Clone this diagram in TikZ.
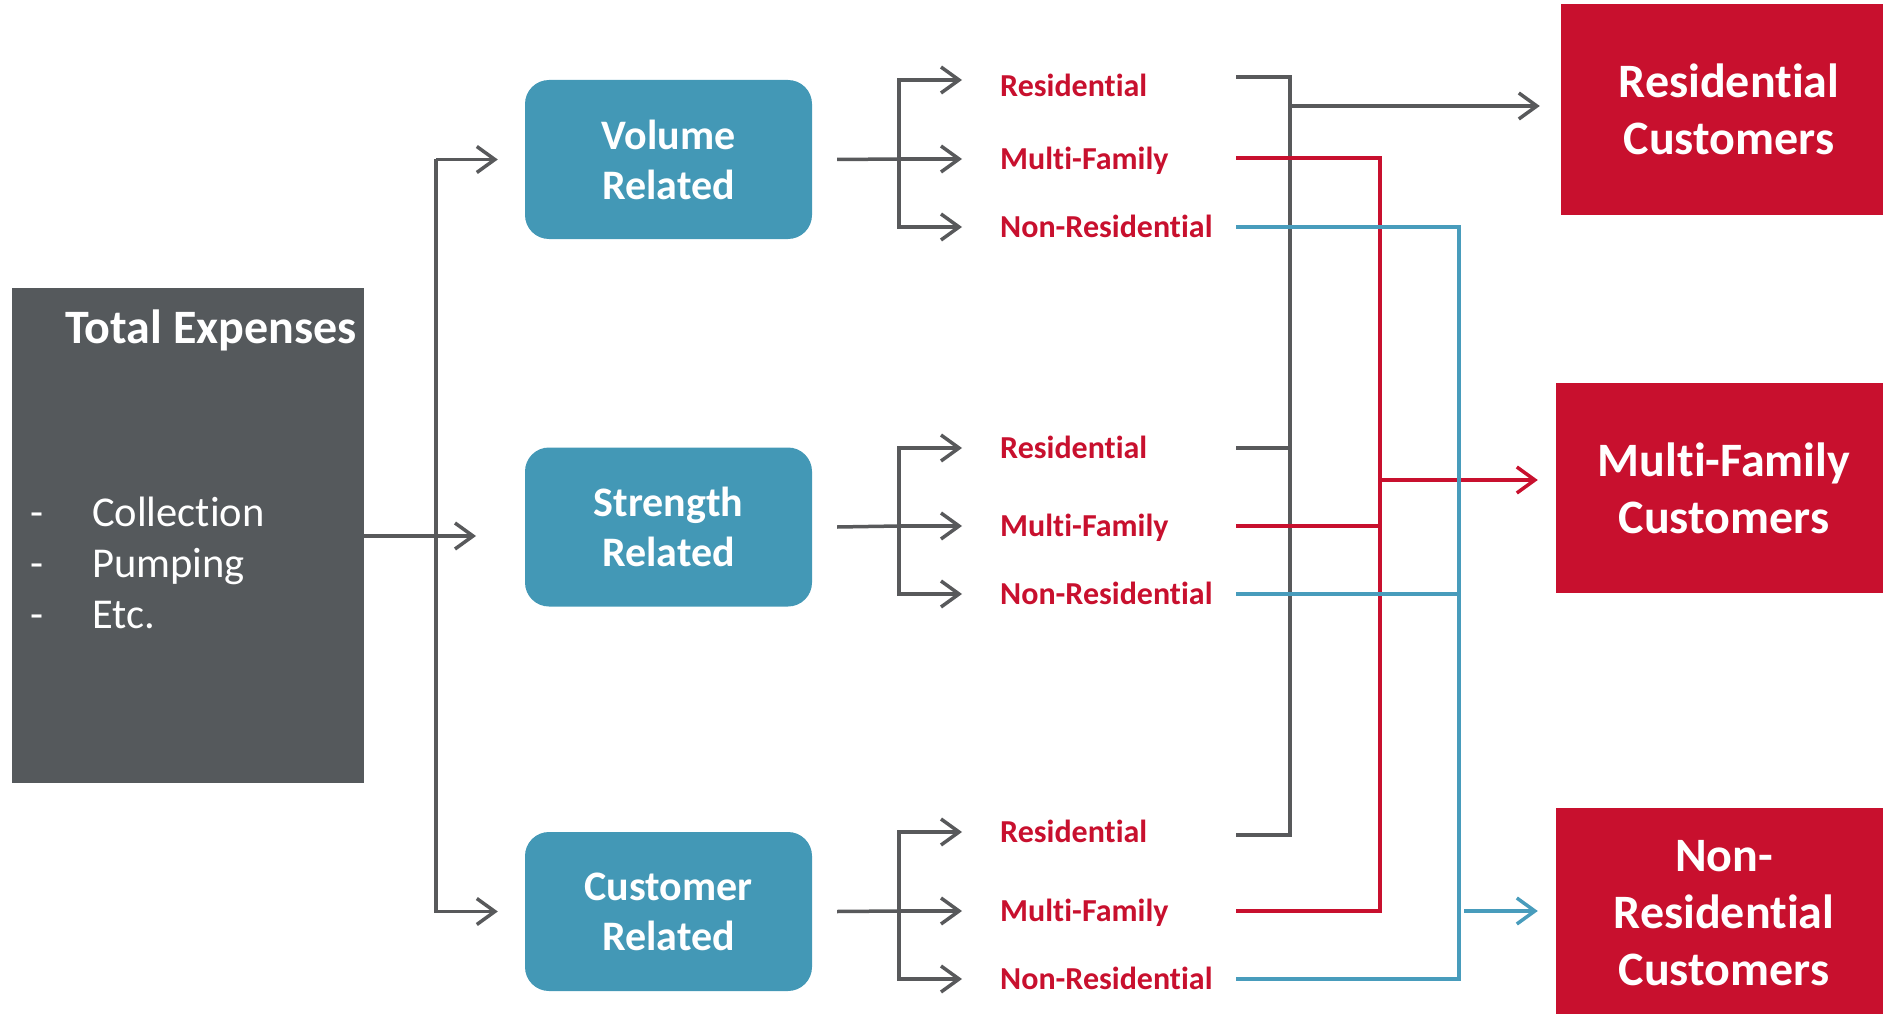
\documentclass[tikz,border=0pt]{standalone}
\usepackage{fontspec}
\setmainfont{Carlito}[Ligatures=NoCommon]
\usetikzlibrary{arrows.meta}
\definecolor{boxgray}{RGB}{85,89,92}
\definecolor{tealb}{RGB}{67,152,182}
\definecolor{crim}{RGB}{200,16,46}
\definecolor{lgray}{RGB}{88,89,91}
\definecolor{lblue}{RGB}{72,156,188}
\tikzset{
  totalbox/.style={fill=boxgray, draw=none, minimum width=352pt, minimum height=495pt, anchor=north west, inner sep=0pt},
  totaltitle/.style={text=white, font=\bfseries\fontsize{48}{54}\selectfont, inner sep=0pt},
  listtxt/.style={text=white, font=\fontsize{42.5}{50}\selectfont, anchor=base west, inner sep=0pt},
  bluebox/.style={fill=tealb, rounded corners=24pt, minimum width=287pt, minimum height=159pt, text=white, font=\bfseries\fontsize{42}{50}\selectfont, align=center, inner sep=0pt},
  redbox/.style={fill=crim, minimum width=336pt, minimum height=210pt, text=white, font=\bfseries\fontsize{48}{57}\selectfont, align=center, inner sep=0pt},
  lab/.style={text=crim, font=\bfseries\fontsize{32}{36}\selectfont, anchor=west, inner sep=0pt, text height=20.5pt, text depth=0pt},
  conn/.style={line width=3.5pt, draw=lgray},
  arr/.style={conn, -{Straight Barb[length=18pt,width=26pt]}},
}
\begin{document}
\begin{tikzpicture}[x=1pt,y=-1pt]
\useasboundingbox (0,0) rectangle (1883,1014);
% left box
\node[totalbox] (tot) at (12,288) {};
\node[totaltitle] (tt) at (211,330) {Total Expenses};
\node[listtxt] (d1) at (30,526) {-};
\node[listtxt] (d2) at (30,577) {-};
\node[listtxt] (d3) at (30,628) {-};
\node[listtxt] (l1) at (92,526) {Collection};
\node[listtxt] (l2) at (92,577) {Pumping};
\node[listtxt] (l3) at (92,628) {Etc.};
% blue boxes
\node[bluebox] (vb) at (668.5,159.5) {Volume\\Related};
\node[bluebox] (sb) at (668.5,527) {Strength\\Related};
\node[bluebox] (cb) at (668.5,911.5) {Customer\\Related};
% red boxes
\node[redbox] (RC) at (1729,109.5) {Residential\\Customers};
\node[redbox] (MC) at (1724,488) {Multi-Family\\Customers};
\node[redbox] (NC) at (1724,913) {Non-\\Residential\\Customers};
% labels
\node[lab] (r1) at (1000,86) {Residential};
\node[lab] (m1) at (1000,159) {Multi-Family};
\node[lab] (n1) at (1000,227) {Non-Residential};
\node[lab] (r2) at (1000,448) {Residential};
\node[lab] (m2) at (1000,526) {Multi-Family};
\node[lab] (n2) at (1000,594) {Non-Residential};
\node[lab] (r3) at (1000,832) {Residential};
\node[lab] (m3) at (1000,911) {Multi-Family};
\node[lab] (n3) at (1000,979) {Non-Residential};
% coordinates
\coordinate (tx) at (436,0);
\coordinate (sx) at (899,0);
\coordinate (xr) at (1236,0);
\coordinate (gx) at (1290,0);
\coordinate (mx) at (1380,0);
\coordinate (nx) at (1459,0);
% left trunk
\draw[arr] (tot.east |- 0,536) -- (476,536);
\draw[arr, shorten >=27pt] (tx |- vb.west) |- (vb.west);
\draw[arr, shorten >=27pt] (tx |- sb.west) |- (cb.west);
\draw[conn] (tx |- vb.west) -- (tx |- cb.west);
% splits
\draw[arr, shorten >=38pt] (sx |- m1.west) |- ([yshift=6pt]r1.west);
\foreach \b/\r/\m/\n in {vb/r1/m1/n1, sb/r2/m2/n2, cb/r3/m3/n3}{
  \draw[conn] ([xshift=25pt]\b.east) -- (sx |- \m.west);
  \draw[arr, shorten >=38pt] (sx |- \m.west) -- (\m.west);
  \draw[arr, shorten >=38pt] (sx |- \m.west) |- (\n.west);
}
\draw[arr, shorten >=38pt] (sx |- m2.west) |- (r2.west);
\draw[arr, shorten >=38pt] (sx |- m3.west) |- (r3.west);
% gray collector
\draw[conn] ([yshift=9pt]r1.west -| xr) -- ([yshift=9pt]r1.west -| gx) -- ([yshift=-3pt]r3.west -| gx) -- ([yshift=-3pt]r3.west -| xr);
\draw[conn] (r2.west -| xr) -- (r2.west -| gx);
\draw[arr, shorten >=21pt] (gx |- 0,106) -- (RC.west |- 0,106);
% red collector
\draw[conn, draw=crim] ([yshift=1pt]m1.west -| xr) -- ([yshift=1pt]m1.west -| mx) -- (m3.west -| mx) -- (m3.west -| xr);
\draw[conn, draw=crim] (m2.west -| xr) -- (m2.west -| mx);
\draw[arr, draw=crim, shorten >=18pt] (mx |- 0,480) -- (MC.west |- 0,480);
% blue collector
\draw[conn, draw=lblue] (n1.west -| xr) -- (n1.west -| nx) -- (n3.west -| nx) -- (n3.west -| xr);
\draw[conn, draw=lblue] (n2.west -| xr) -- (n2.west -| nx);
\draw[arr, draw=lblue, shorten >=18pt] ([xshift=5pt]nx |- 0,911) -- (NC.west |- 0,911);
\end{tikzpicture}
\end{document}
